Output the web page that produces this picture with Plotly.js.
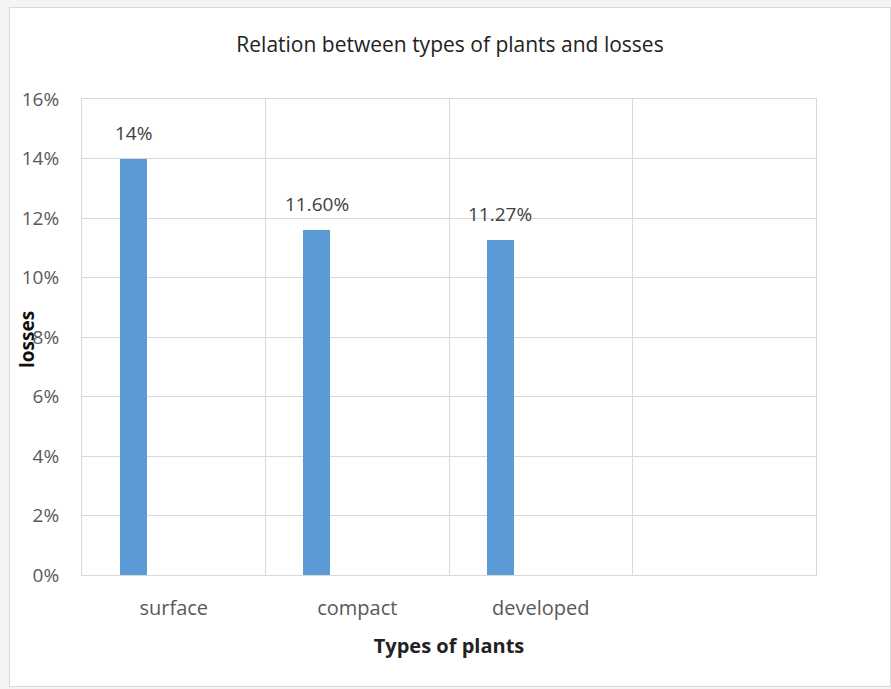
<!DOCTYPE html>
<html>
<head>
<meta charset="utf-8">
<script src="https://cdn.plot.ly/plotly-3.0.1.min.js"></script>
<style>
  html, body { margin: 0; padding: 0; background: #f4f4f4; width: 891px; height: 689px; overflow: hidden; }
  #chart { position: absolute; left: 9px; top: 7px; width: 880px; height: 678px; border: 1px solid #d9d9d9; background: #fff; }
</style>
</head>
<body>
<div id="chart"></div>
<script>
// Data
const categories = ['surface', 'compact', 'developed'];
const losses = [0.14, 0.116, 0.1127];
const valueLabels = ['14%', '11.60%', '11.27%'];
const yTickVals = [0, 0.02, 0.04, 0.06, 0.08, 0.10, 0.12, 0.14, 0.16];

const barOffset = -0.293;
const barWidth = 0.147;
const fontFam = '"Open Sans", "DejaVu Sans", sans-serif';

const trace = {
  type: 'bar',
  x: categories,
  y: losses,
  offset: barOffset,
  width: barWidth,
  marker: { color: '#5b9bd5' },
  hoverinfo: 'x+y',
  showlegend: false
};

const annotations = categories.map((c, i) => ({
  x: i + barOffset + barWidth / 2,
  y: losses[i],
  xref: 'x', yref: 'y',
  text: valueLabels[i],
  showarrow: false,
  yanchor: 'bottom',
  yshift: 11,
  font: { family: fontFam, size: 19, color: '#404040' }
}));

annotations.push({
  x: 0, y: 0.5, xref: 'paper', yref: 'paper',
  xanchor: 'center', yanchor: 'middle',
  xshift: -55, yshift: -3,
  text: '<b>losses</b>',
  textangle: -90,
  showarrow: false,
  font: { family: fontFam, size: 19, color: '#111111' }
});

const layout = {
  width: 880, height: 678,
  margin: { l: 72, r: 74, t: 91, b: 111 },
  paper_bgcolor: '#ffffff',
  plot_bgcolor: '#ffffff',
  title: {
    text: 'Relation between types of plants and losses',
    x: 0.5, xref: 'container', xanchor: 'center',
    y: 1 - 37 / 678, yref: 'container', yanchor: 'middle',
    font: { family: fontFam, size: 21, color: '#222222' }
  },
  xaxis: {
    type: 'category',
    categoryorder: 'array',
    categoryarray: categories,
    range: [-0.5, 3.5],
    tickson: 'boundaries',
    ticks: '',
    showgrid: true,
    gridcolor: '#d9d9d9',
    showline: true, mirror: true, linecolor: '#d9d9d9', linewidth: 1,
    ticklabelstandoff: 15,
    tickfont: { family: fontFam, size: 20, color: '#595959' },
    title: { text: '<b>Types of plants</b>', standoff: 18, font: { family: fontFam, size: 20, color: '#222222' } },
    zeroline: false,
    fixedrange: true
  },
  yaxis: {
    range: [0, 0.16],
    tickvals: yTickVals,
    tickformat: '.0%',
    ticks: '',
    showgrid: true,
    gridcolor: '#d9d9d9',
    showline: true, mirror: true, linecolor: '#d9d9d9', linewidth: 1,
    ticklabelstandoff: 18,
    tickfont: { family: fontFam, size: 19, color: '#595959' },
    zeroline: false,
    fixedrange: true
  },
  annotations: annotations,
  bargap: 0
};

Plotly.newPlot('chart', [trace], layout, { displayModeBar: false, staticPlot: true });
</script>
</body>
</html>
